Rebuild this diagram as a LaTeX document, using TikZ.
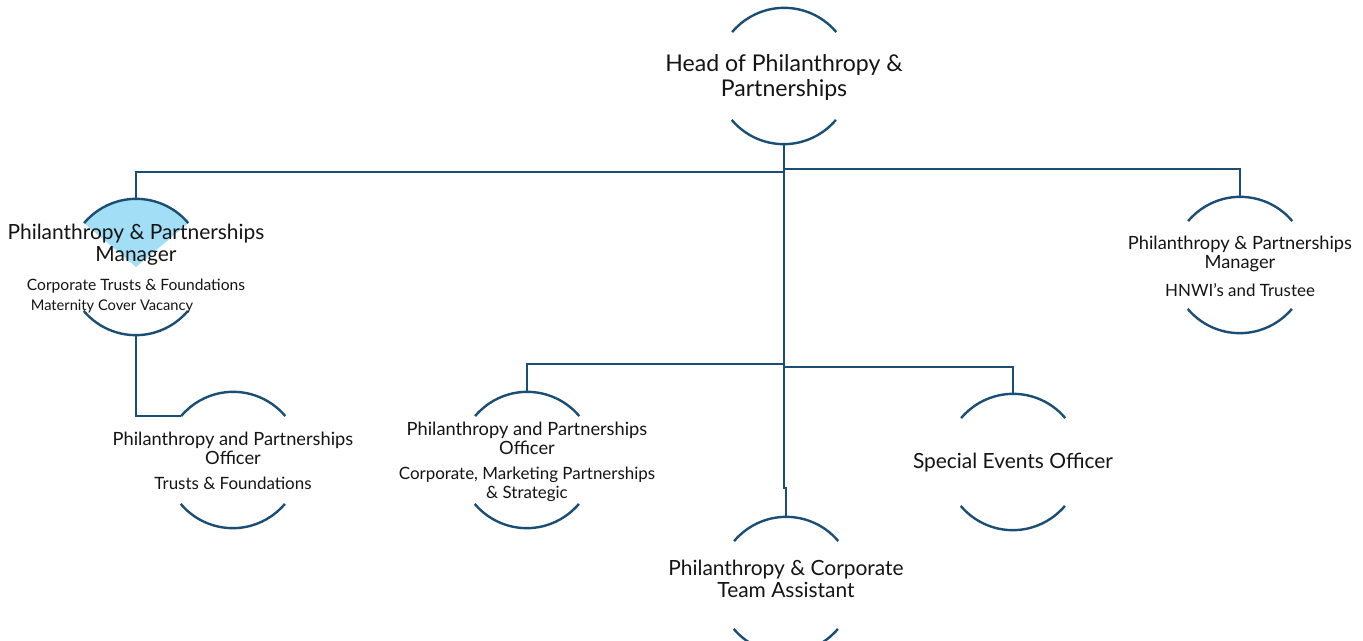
\documentclass[tikz,border=0pt]{standalone}
\usepackage{fontspec}
\setmainfont{Lato}
\usetikzlibrary{positioning}
\definecolor{linecol}{RGB}{26,78,116}
\definecolor{selfill}{RGB}{162,222,245}
\definecolor{txtcol}{RGB}{20,20,20}

\tikzset{
  role/.style={circle,minimum size=102pt,inner sep=0pt},
  rolearc/.style={draw=linecol,line width=1.8pt},
  link/.style={draw=linecol,line width=1.8pt},
  roletxt/.style={align=center,inner sep=0pt,text=txtcol},
  headtxt/.style={roletxt,font=\fontsize{17.3}{18.75}\selectfont},
  bigtxt/.style={roletxt,font=\fontsize{15.7}{16.5}\selectfont},
  midtxt/.style={roletxt,font=\fontsize{13.7}{14.25}\selectfont},
  subtxt/.style={roletxt,font=\fontsize{12.7}{14.25}\selectfont},
  smalltxt/.style={roletxt,font=\fontsize{11}{12}\selectfont}
}

\begin{document}
\begin{tikzpicture}[x=0.75pt,y=0.75pt,yscale=-1,xscale=1]
\useasboundingbox (0,0) rectangle (1363,641);

% role circles
\node[role] (head) at (784,76) {};
\node[role] (mgrL) at (136,267) {};
\node[role] (mgrR) at (1240,265) {};
\node[role] (offL) at (233,460) {};
\node[role] (offM) at (527,460) {};
\node[role] (events) at (1013,462) {};
\node[role] (asst) at (786,585) {};

%Shape: Sector (selected role)
\fill[selfill] (mgrL.center) -- (mgrL.40) arc[start angle=-40,end angle=-140,radius=68] -- cycle;

%Shape: Arcs
\foreach \r in {head,mgrL,mgrR,offL,offM,events,asst}{
  \draw[rolearc] (\r.40) arc[start angle=-40,end angle=-140,radius=68];
  \draw[rolearc] (\r.220) arc[start angle=140,end angle=40,radius=68];
}

% bus points
\coordinate (busL) at (784,172);
\coordinate (busR) at (784,169);
\coordinate (busM) at (784,364);
\coordinate (busE) at (784,367);
\coordinate (jogA) at (784,488);
\coordinate (jogB) at (786,488);

%Straight Lines
\draw[link] (head.south) -- (jogA) -- (jogB) -- (asst.north);
\draw[link] (busL) -| (mgrL.north);
\draw[link] (busR) -| (mgrR.north);
\draw[link] (busM) -| (offM.north);
\draw[link] (busE) -| (events.north);
\draw[link] (mgrL.south) |- (offL.140);

% Text Node
\node[headtxt] (headtxt) at (784,77) {Head of Philanthropy \&\\Partnerships};
% Text Node
\node[bigtxt] (mgrLtxt) at (136,245) {Philanthropy \& Partnerships\\Manager};
\node[subtxt,font=\fontsize{11.7}{14}\selectfont,below=9.5pt of mgrLtxt] (mgrLsub) {Corporate Trusts \& Foundations};
\node[smalltxt] (mgrLnote) at (112,306) {Maternity Cover Vacancy};
% Text Node
\node[midtxt] (mgrRtxt) at (1240,253.5) {Philanthropy \& Partnerships\\Manager};
\node[subtxt,below=8.5pt of mgrRtxt] (mgrRsub) {HNWI's and Trustee};
% Text Node
\node[midtxt] (offLtxt) at (233,448) {Philanthropy and Partnerships\\Officer};
\node[subtxt,below=9.5pt of offLtxt] (offLsub) {Trusts \& Foundations};
% Text Node
\node[midtxt] (offMtxt) at (527,438) {Philanthropy and Partnerships\\Officer};
\node[subtxt,below=9.5pt of offMtxt] (offMsub) {Corporate, Marketing Partnerships\\\& Strategic};
% Text Node
\node[bigtxt] (eventstxt) at (1013,463) {Special Events Officer};
% Text Node
\node[bigtxt] (assttxt) at (786,579) {Philanthropy \& Corporate\\Team Assistant};

\end{tikzpicture}
\end{document}
